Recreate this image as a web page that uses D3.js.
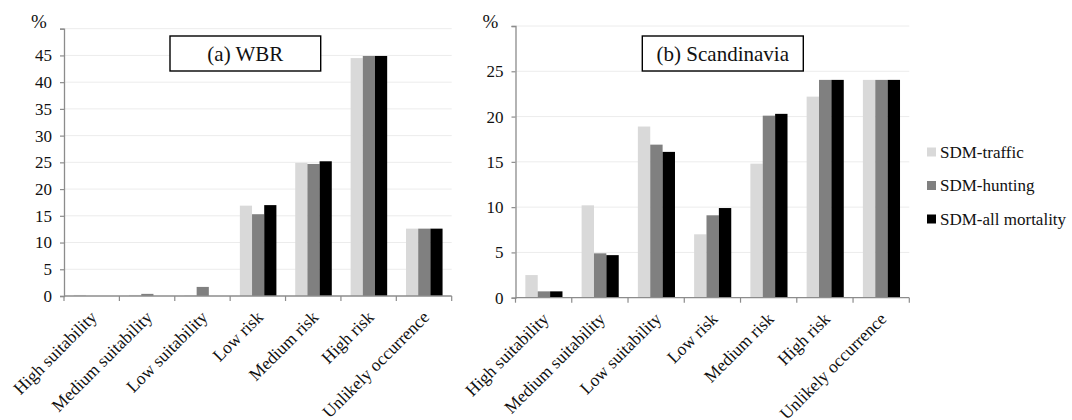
<!DOCTYPE html>
<html>
<head>
<meta charset="utf-8">
<script src="https://cdn.jsdelivr.net/npm/d3@7"></script>
<style>
  html, body { margin: 0; padding: 0; background: #fff; }
</style>
</head>
<body>
<svg id="chart" width="1072" height="420"></svg>
<script>
// ---- data ----
const categories = ["High suitability", "Medium suitability", "Low suitability", "Low risk", "Medium risk", "High risk", "Unlikely occurrence"];
const seriesNames = ["SDM-traffic", "SDM-hunting", "SDM-all mortality"];
const seriesColors = ["#d9d9d9", "#808080", "#000000"];

const wbrTraffic   = [0.2, 0.2, 0.1, 16.9, 24.9, 44.5, 12.6];
const wbrHunting   = [0.0, 0.4, 1.7, 15.3, 24.7, 44.9, 12.6];
const wbrAll       = [0.0, 0.0, 0.0, 17.0, 25.2, 44.9, 12.6];

const scanTraffic  = [2.5, 10.2, 18.9, 7.0, 14.8, 22.2, 24.05];
const scanHunting  = [0.7, 4.9, 16.9, 9.1, 20.1, 24.05, 24.05];
const scanAll      = [0.7, 4.7, 16.1, 9.9, 20.3, 24.05, 24.05];

const wbrTicks  = [0, 5, 10, 15, 20, 25, 30, 35, 40, 45, 50];
const scanTicks = [0, 5, 10, 15, 20, 25, 30];

const FONT = "'Liberation Serif', 'Times New Roman', Times, 'DejaVu Serif', serif";
const svg = d3.select("#chart").style("font-family", FONT);

function drawPanel(opt) {
  const g = svg.append("g");
  const x0 = d3.scaleBand().domain(categories).range([opt.left, opt.right]).padding(0);
  const bw = x0.bandwidth();
  const x1 = d3.scaleBand().domain(seriesNames).range([bw * 0.175, bw * 0.835]).padding(0);
  const y = d3.scaleLinear().domain([0, opt.max]).range([opt.bottom, opt.top]);

  // gridlines
  g.append("g").selectAll("line").data(opt.ticks.filter(t => t > 0)).join("line")
    .attr("x1", opt.left).attr("x2", opt.right)
    .attr("y1", d => y(d)).attr("y2", d => y(d))
    .attr("stroke", "#ececec").attr("stroke-width", 1);

  // bars
  const rows = categories.map((c, i) => ({ c, vals: opt.series.map((s, k) => ({ k, v: s[i] })) }));
  const grp = g.append("g").selectAll("g").data(rows).join("g")
    .attr("transform", d => `translate(${x0(d.c)},0)`);
  grp.selectAll("rect").data(d => d.vals).join("rect")
    .attr("x", d => x1(seriesNames[d.k]))
    .attr("width", x1.bandwidth())
    .attr("y", d => y(d.v))
    .attr("height", d => y(0) - y(d.v))
    .attr("fill", d => seriesColors[d.k]);

  // y axis (top tick has no label; "%" sits above it)
  const yAxis = d3.axisLeft(y).tickValues(opt.ticks).tickSize(4).tickPadding(8)
    .tickFormat(d => d === opt.max ? "" : d3.format("d")(d));
  const ya = g.append("g").attr("transform", `translate(${opt.left},0)`).call(yAxis);
  ya.attr("font-family", null).style("font-family", FONT);
  ya.select(".domain").attr("stroke", "#8c8c8c").attr("stroke-width", 1.3);
  ya.selectAll(".tick line").attr("stroke", "#8c8c8c").attr("stroke-width", 1.2);
  ya.selectAll(".tick text").attr("font-size", 17).attr("fill", "#111").style("font-family", FONT);

  // x axis baseline + boundary ticks
  g.append("line").attr("x1", opt.left).attr("x2", opt.right)
    .attr("y1", y(0)).attr("y2", y(0)).attr("stroke", "#8c8c8c").attr("stroke-width", 1.3);
  const bounds = categories.map(c => x0(c)).concat([opt.right]);
  g.append("g").selectAll("line").data(bounds).join("line")
    .attr("x1", d => d).attr("x2", d => d)
    .attr("y1", y(0)).attr("y2", y(0) + 5)
    .attr("stroke", "#8c8c8c").attr("stroke-width", 1.2);

  // category labels
  g.append("g").selectAll("text").data(categories).join("text")
    .attr("transform", d => `translate(${x0(d) + bw / 2 + 2},${y(0) + 18}) rotate(-45)`)
    .attr("text-anchor", "end")
    .attr("dominant-baseline", "central")
    .style("font-family", FONT)
    .attr("font-size", 17.5).attr("fill", "#111")
    .text(d => d);

  // % label
  g.append("text").attr("x", opt.left - 25).attr("y", 28)
    .attr("text-anchor", "middle").style("font-family", FONT)
    .attr("font-size", 19).attr("fill", "#111").text("%");

  // title box
  g.append("rect").attr("x", opt.box[0]).attr("y", 36).attr("width", opt.box[1] - opt.box[0]).attr("height", 35)
    .attr("fill", "#fff").attr("stroke", "#000").attr("stroke-width", 1.4);
  g.append("text").attr("x", (opt.box[0] + opt.box[1]) / 2).attr("y", 54)
    .attr("text-anchor", "middle").attr("dominant-baseline", "central")
    .style("font-family", FONT)
    .attr("font-size", 21).attr("fill", "#111").text(opt.title);
}

drawPanel({ left: 64, right: 451.7, top: 28.7, bottom: 296, max: 50, ticks: wbrTicks,
  series: [wbrTraffic, wbrHunting, wbrAll], title: "(a) WBR", box: [170, 320.7] });
drawPanel({ left: 515.5, right: 909.3, top: 26, bottom: 297.7, max: 30, ticks: scanTicks,
  series: [scanTraffic, scanHunting, scanAll], title: "(b) Scandinavia", box: [642.3, 803.3] });

// legend
const legendY = [152, 185.5, 219];
const lg = svg.append("g").selectAll("g").data(seriesNames).join("g")
  .attr("transform", (d, i) => `translate(927,${legendY[i]})`);
lg.append("rect").attr("x", 0).attr("y", -4.5).attr("width", 9).attr("height", 9)
  .attr("fill", (d, i) => seriesColors[i]);
lg.append("text").attr("x", 13).attr("y", 0).attr("dominant-baseline", "central")
  .style("font-family", FONT)
  .attr("font-size", 17).attr("fill", "#111").text(d => d);
</script>
</body>
</html>
